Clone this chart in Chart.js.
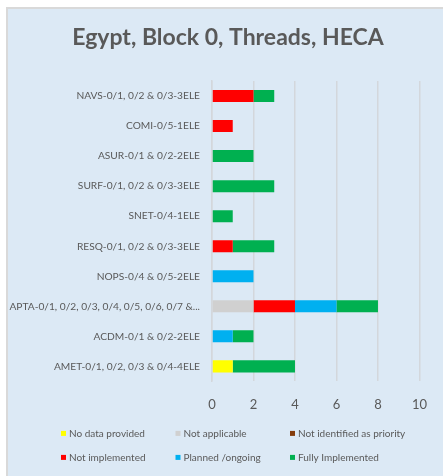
<!DOCTYPE html>
<html>
<head>
<meta charset="utf-8">
<script src="https://cdn.jsdelivr.net/npm/chart.js@4.4.1/dist/chart.umd.min.js"></script>
<style>
  html, body { margin: 0; padding: 0; background: #ffffff; overflow: hidden; width: 443px; height: 476px; }
  .panel { position: absolute; left: 6px; top: 7px; width: 460px; height: 490px; background: #dce9f5; border-left: 2px solid #d9d9d9; border-top: 2px solid #d9d9d9; }
  #c { position: absolute; left: 0; top: 0; }
</style>
</head>
<body>
<div class="panel"></div>
<canvas id="c" width="443" height="476"></canvas>
<script>
const categories = [
  'NAVS-0/1, 0/2 & 0/3-3ELE',
  'COMI-0/5-1ELE',
  'ASUR-0/1 & 0/2-2ELE',
  'SURF-0/1, 0/2 & 0/3-3ELE',
  'SNET-0/4-1ELE',
  'RESQ-0/1, 0/2 & 0/3-3ELE',
  'NOPS-0/4 & 0/5-2ELE',
  'APTA-0/1, 0/2, 0/3, 0/4, 0/5, 0/6, 0/7 &...',
  'ACDM-0/1 & 0/2-2ELE',
  'AMET-0/1, 0/2, 0/3 & 0/4-4ELE'
];
const seriesNames = ['No data provided', 'Not applicable', 'Not identified as priority', 'Not implemented', 'Planned /ongoing', 'Fully Implemented'];
const noData         = [0, 0, 0, 0, 0, 0, 0, 0, 0, 1];
const notApplicable  = [0, 0, 0, 0, 0, 0, 0, 2, 0, 0];
const notPriority    = [0, 0, 0, 0, 0, 0, 0, 0, 0, 0];
const notImplemented = [2, 1, 0, 0, 0, 1, 0, 2, 0, 0];
const planned        = [0, 0, 0, 0, 0, 0, 2, 2, 1, 0];
const fully          = [1, 0, 2, 3, 1, 2, 0, 2, 1, 3];
const xTicks = [0, 2, 4, 6, 8, 10];
const chartTitle = 'Egypt, Block 0, Threads, HECA';

const colors = ['#ffff00', '#d0d0d0', '#843c0c', '#ff0000', '#00b0f0', '#00b050'];
const values = [noData, notApplicable, notPriority, notImplemented, planned, fully];
const textColor = '#595959';

const titleAndLegend = {
  id: 'titleAndLegend',
  afterDraw(chart) {
    const ctx = chart.ctx;
    ctx.save();
    // title
    ctx.font = 'bold 23px Lato';
    ctx.fillStyle = textColor;
    ctx.textAlign = 'center';
    ctx.textBaseline = 'middle';
    ctx.fillText(chartTitle, (chart.width + 13) / 2, 38);
    // legend grid
    const ds = chart.data.datasets;
    const cols = 3, colW = 114.5, x0 = 61;
    const y0 = chart.chartArea.bottom + 52, rowH = 24;
    ctx.font = '10px Lato';
    ctx.textAlign = 'left';
    ds.forEach((d, i) => {
      const x = x0 + (i % cols) * colW;
      const y = y0 + Math.floor(i / cols) * rowH;
      ctx.fillStyle = d.backgroundColor;
      ctx.fillRect(x, y - 2.5, 5, 5);
      ctx.fillStyle = textColor;
      ctx.fillText(d.label, x + 8, y);
    });
    ctx.restore();
  }
};

new Chart(document.getElementById('c'), {
  type: 'bar',
  data: {
    labels: categories,
    datasets: seriesNames.map((name, i) => ({
      label: name,
      data: values[i],
      backgroundColor: colors[i],
      borderWidth: 0,
      barPercentage: 0.4,
      categoryPercentage: 1.0
    }))
  },
  options: {
    indexAxis: 'y',
    responsive: false,
    animation: false,
    layout: { padding: { left: 0, right: 14, top: 81, bottom: 47 } },
    plugins: {
      legend: { display: false },
      tooltip: { enabled: false },
      title: { display: false }
    },
    scales: {
      x: {
        stacked: true,
        min: 0,
        max: 10,
        afterBuildTicks(scale) { scale.ticks = xTicks.map(v => ({ value: v })); },
        grid: { color: '#d3d7dc', lineWidth: 1.5, drawTicks: false },
        border: { display: false },
        ticks: { color: textColor, padding: 16, font: { family: 'Lato', size: 13 } }
      },
      y: {
        stacked: true,
        afterFit(scale) { scale.width = 212; },
        grid: { display: false, drawTicks: false },
        border: { display: true, color: '#d3d7dc', width: 1.5 },
        ticks: { color: textColor, padding: 12, font: { family: 'Lato', size: 10.2 }, autoSkip: false }
      }
    }
  },
  plugins: [titleAndLegend]
});
</script>
</body>
</html>
